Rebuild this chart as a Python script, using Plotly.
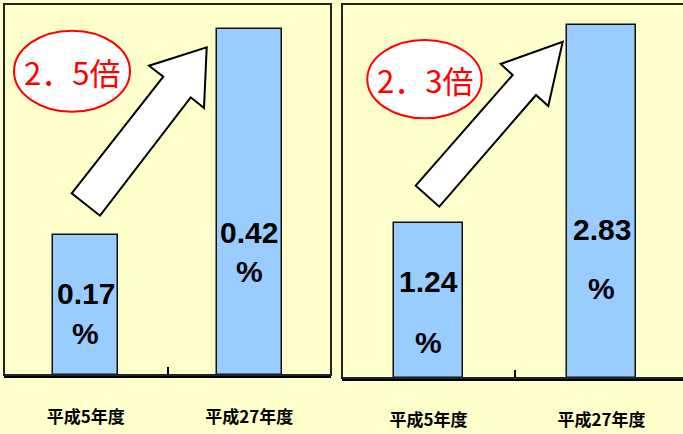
import plotly.graph_objects as go

# ---- data -------------------------------------------------------------
categories = ["平成5年度", "平成27年度"]
left_values = [0.17, 0.42]
right_values = [1.24, 2.83]

# ---- page geometry (pixels) ------------------------------------------
W, H = 683, 434
BG = "#FFFFCC"
BAR = "#99CCFF"


def px(x):
    return x / W


def py(y):
    return 1 - y / H


fig = go.Figure()

fig.add_trace(go.Bar(x=categories, y=left_values, xaxis="x", yaxis="y",
                     marker=dict(color=BAR, line=dict(color="#111", width=1.5)),
                     width=0.4, hoverinfo="skip"))
fig.add_trace(go.Bar(x=categories, y=right_values, xaxis="x2", yaxis="y2",
                     marker=dict(color=BAR, line=dict(color="#111", width=1.5)),
                     width=0.4, hoverinfo="skip"))

tick_font = dict(family="Noto Sans CJK JP", size=17, color="#000", weight="bold")
common_x = dict(type="category", showgrid=False, zeroline=False,
                showline=True, linecolor="#000", linewidth=2.5,
                ticks="inside", ticklen=8, tickwidth=1.5, tickcolor="#000",
                tickson="boundaries", tickfont=tick_font,
                ticklabelstandoff=25, fixedrange=True)
common_y = dict(showgrid=False, zeroline=False, showline=False,
                showticklabels=False, ticks="", fixedrange=True)

# right panel runs slightly past the page edge
right_left, right_right = 342, 688
right_cat_w = (right_right - right_left) / 2
right_span = 2 - (right_right - W) / right_cat_w

fig.update_layout(
    width=W, height=H,
    margin=dict(l=0, r=0, t=0, b=0),
    paper_bgcolor=BG, plot_bgcolor=BG,
    showlegend=False,
    bargap=0,
    xaxis=dict(domain=[px(4), px(331)], range=[-0.5, 1.5], anchor="y", **common_x),
    yaxis=dict(domain=[py(375), py(4)], range=[0, 0.45], anchor="x", **common_y),
    xaxis2=dict(domain=[px(right_left), 1], range=[-0.5, -0.5 + right_span],
                anchor="y2", **common_x),
    yaxis2=dict(domain=[py(378), py(4)], range=[0, 3.0], anchor="x2", **common_y),
)

# panel frames
frame = dict(color="#222", width=2)
fig.add_shape(type="rect", xref="paper", yref="paper",
              x0=px(4), x1=px(331), y0=py(375), y1=py(4),
              line=frame, fillcolor="rgba(0,0,0,0)", layer="above")
fig.add_shape(type="rect", xref="paper", yref="paper",
              x0=px(right_left), x1=px(right_right), y0=py(378), y1=py(4),
              line=frame, fillcolor="rgba(0,0,0,0)", layer="above")

# block arrows (tail corner, left notch, left barb, tip, right barb, right notch, tail corner)
arrows = [
    [(71.7, 193.3), (163.3, 76.7), (149, 65.7), (206.7, 47.3),
     (204, 108), (190.7, 97.3), (100, 215.7)],
    [(415.7, 185.7), (512.7, 75), (500.7, 64), (562.7, 41.7),
     (548.3, 106), (536, 95), (439.3, 206.7)],
]
for pts in arrows:
    path = "M " + " L ".join(f"{px(x):.5f},{py(y):.5f}" for x, y in pts) + " Z"
    fig.add_shape(type="path", xref="paper", yref="paper", path=path,
                  fillcolor="#FFFFFF", line=dict(color="#000", width=2))

# growth ratio ovals
ovals = [((14, 30.7, 130, 111.7), left_values),
         ((367.3, 40, 481.7, 118.3), right_values)]
for (x0, y0, x1, y1), vals in ovals:
    fig.add_shape(type="circle", xref="paper", yref="paper",
                  x0=px(x0), x1=px(x1), y0=py(y1), y1=py(y0),
                  fillcolor="#FFFFFF", line=dict(color="#FF0000", width=2))
    ratio = f"{vals[1] / vals[0]:.1f}"
    whole, frac = ratio.split(".")
    fig.add_annotation(xref="paper", yref="paper",
                       x=px((x0 + x1) / 2), y=py((y0 + y1) / 2),
                       text=f"{whole}．{frac}倍", showarrow=False,
                       font=dict(family="Noto Sans CJK JP", size=31, color="#FF0000"),
                       xanchor="center", yanchor="middle")

# value labels inside bars: number line and "%" line, offsets below bar top (px)
label_font = dict(family="Liberation Sans, Arial", size=30, color="#000")
number_shift = [[-59, -204], [-58, -204]]
percent_shift = [[-99, -243], [-119, -263]]
for k, (vals, xa, ya) in enumerate([(left_values, "x", "y"), (right_values, "x2", "y2")]):
    for i, v in enumerate(vals):
        fig.add_annotation(xref=xa, yref=ya, x=categories[i], y=v,
                           text=f"<b>{v:.2f}</b>", showarrow=False,
                           font=label_font, yanchor="middle",
                           yshift=number_shift[k][i])
        fig.add_annotation(xref=xa, yref=ya, x=categories[i], y=v,
                           text="<b>%</b>", showarrow=False,
                           font=label_font, yanchor="middle",
                           yshift=percent_shift[k][i])

fig.write_html("out.html")
